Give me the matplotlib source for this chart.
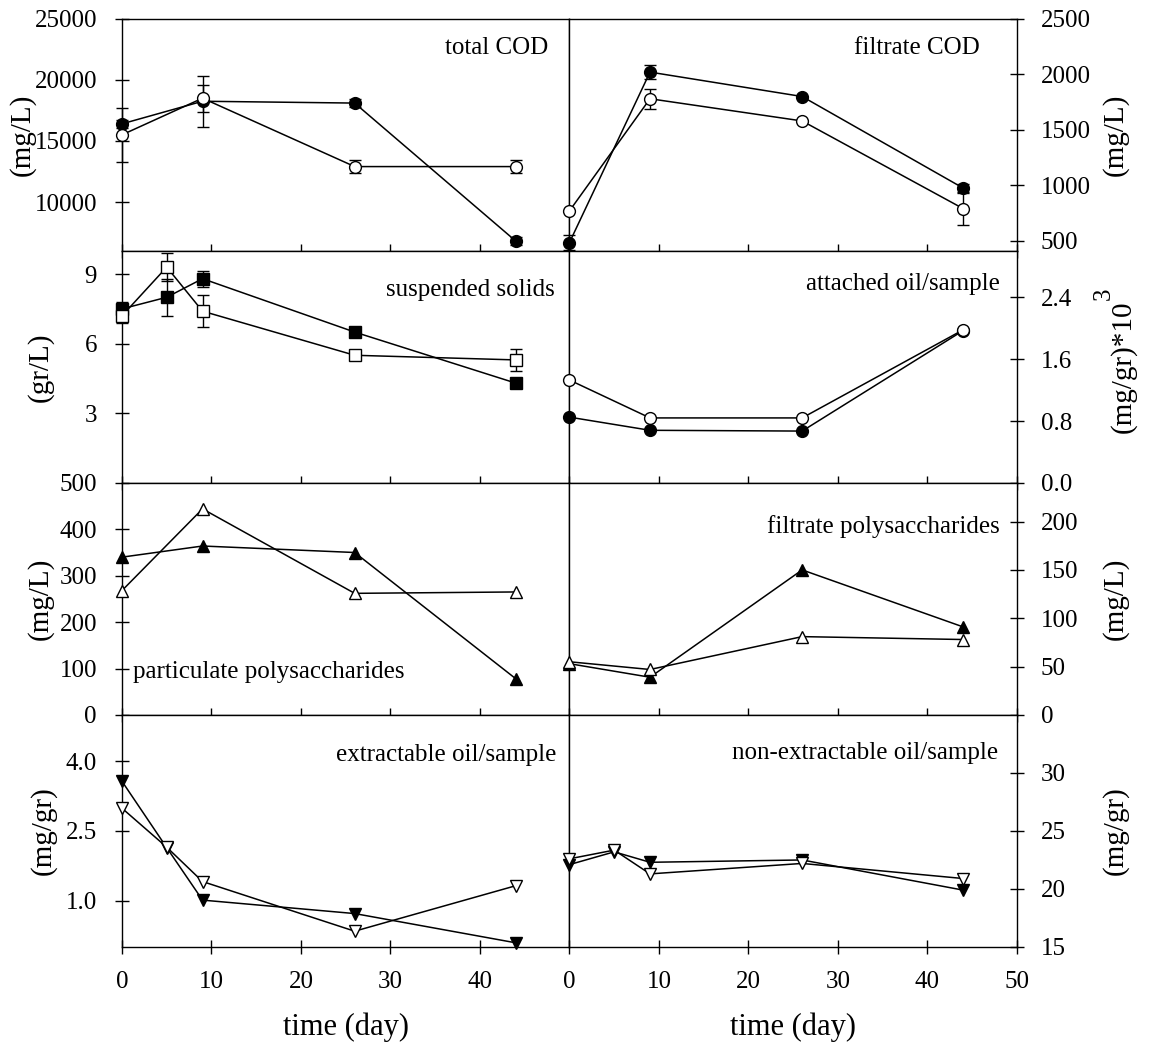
import matplotlib
matplotlib.use("Agg")
import matplotlib.pyplot as plt
from matplotlib.transforms import IdentityTransform

plt.rcParams['font.family'] = ['Liberation Serif', 'DejaVu Serif']
plt.rcParams['mathtext.fontset'] = 'stix'

# sampling days
days4 = [0, 9, 26, 44]
days5 = [0, 5, 9, 26, 44]

# total COD (mg/L)
tcod_filled = [16400, 18250, 18100, 6800]
tcod_filled_err = [300, 2080, 330, 300]
tcod_open = [15500, 18500, 12900, 12900]
tcod_open_err = [2200, 1100, 500, 500]

# filtrate COD (mg/L)
fcod_filled = [485, 2020, 1800, 975]
fcod_filled_err = [65, 60, 0, 40]
fcod_open = [770, 1780, 1580, 790]
fcod_open_err = [0, 90, 0, 150]

# suspended solids (gr/L)
ss_filled = [7.5, 8.0, 8.8, 6.5, 4.3]
ss_filled_err = [0.3, 0.8, 0.35, 0.1, 0.2]
ss_open = [7.2, 9.3, 7.4, 5.5, 5.3]
ss_open_err = [0.3, 0.6, 0.7, 0.05, 0.47]

# attached oil per sample ((mg/gr)*10^3)
ao_filled = [0.85, 0.68, 0.67, 1.97]
ao_open = [1.33, 0.84, 0.84, 1.98]

# particulate polysaccharides (mg/L)
pp_filled = [340, 364, 350, 78]
pp_open = [268, 444, 262, 265]

# filtrate polysaccharides (mg/L)
fp_filled = [53, 39, 150, 91]
fp_open = [55, 47, 81, 78]

# extractable oil per sample (mg/gr)
eo_filled = [3.57, 2.14, 1.01, 0.72, 0.09]
eo_open = [2.99, 2.15, 1.41, 0.34, 1.32]

# non-extractable oil per sample (mg/gr)
neo_filled = [22.1, 23.2, 22.3, 22.5, 19.9]
neo_open = [22.6, 23.35, 21.3, 22.2, 20.9]

fig, axes = plt.subplots(4, 2, figsize=(11.53, 10.45), dpi=100,
                         gridspec_kw=dict(hspace=0, wspace=0))
fig.subplots_adjust(left=0.1058, right=0.882, top=0.982, bottom=0.0938)

TICK_FS = 18
LABEL_FS = 21
COL_W = 447.5  # width of one column in pixels


def draw_pair(ax, x, yf, yo, marker, ms, errf=None, erro=None):
    for y, err, face in ((yf, errf, 'black'), (yo, erro, 'white')):
        if err is not None:
            ax.errorbar(x, y, yerr=err, fmt='none', ecolor='black',
                        elinewidth=1, capsize=4, capthick=1, clip_on=False, zorder=2)
        ax.plot(x, y, color='black', lw=1.1, marker=marker, ms=ms,
                mfc=face, mec='black', mew=1, clip_on=False, zorder=3)


def style(ax, col, ylim, yticks, ylabels, title, tx, ty, ha='right'):
    ax.set_xlim(0, 50)
    ax.set_ylim(*ylim)
    ax.set_yticks(yticks)
    ax.set_yticklabels(ylabels, fontsize=TICK_FS)
    ax.set_xticks([0, 10, 20, 30, 40] if col == 0 else [0, 10, 20, 30, 40, 50])
    ax.tick_params(axis='both', direction='inout', length=10, width=1,
                   labelsize=TICK_FS)
    ax.tick_params(axis='x', top=False, bottom=True, pad=12)
    if col == 0:
        ax.tick_params(axis='y', left=True, right=False, pad=13)
    else:
        ax.yaxis.tick_right()
        ax.yaxis.set_label_position('right')
        ax.tick_params(axis='y', direction='inout', length=10, width=1, pad=12)
    for s in ax.spines.values():
        s.set_linewidth(1)
    ax.text(tx, ty, title, transform=ax.transAxes, ha=ha, va='center',
            fontsize=TICK_FS)


def ylabel_at(ax, text, center_px, col):
    # place the rotated label by the pixel column of its visual centre
    ax.set_ylabel(text, fontsize=LABEL_FS)
    if col == 0:
        anchor = center_px + 14
        ax.yaxis.set_label_coords((anchor - 122) / COL_W, 0.5)
    else:
        anchor = center_px - 18
        ax.yaxis.set_label_coords((anchor - 569.5) / COL_W, 0.5)


# row 1: COD
ax = axes[0, 0]
draw_pair(ax, days4, tcod_filled, tcod_open, 'o', 8.5, tcod_filled_err, tcod_open_err)
style(ax, 0, (6000, 25000), [10000, 15000, 20000, 25000],
      ['10000', '15000', '20000', '25000'], 'total COD', 0.952, 0.875)
ylabel_at(ax, '(mg/L)', 22, 0)

ax = axes[0, 1]
draw_pair(ax, days4, fcod_filled, fcod_open, 'o', 8.5, fcod_filled_err, fcod_open_err)
style(ax, 1, (410, 2500), [500, 1000, 1500, 2000, 2500],
      ['500', '1000', '1500', '2000', '2500'], 'filtrate COD', 0.917, 0.875)
ylabel_at(ax, '(mg/L)', 1120, 1)

# row 2: solids and attached oil
ax = axes[1, 0]
draw_pair(ax, days5, ss_filled, ss_open, 's', 8, ss_filled_err, ss_open_err)
style(ax, 0, (0, 10), [3, 6, 9], ['3', '6', '9'], 'suspended solids', 0.968, 0.83)
ylabel_at(ax, '(gr/L)', 40, 0)

ax = axes[1, 1]
draw_pair(ax, days4, ao_filled, ao_open, 'o', 8.5)
style(ax, 1, (0, 3.0), [0.0, 0.8, 1.6, 2.4], ['0.0', '0.8', '1.6', '2.4'],
      'attached oil/sample', 0.962, 0.858)
ylabel_at(ax, '(mg/gr)*10', 1128, 1)
oil_label = ax.yaxis.label

# row 3: polysaccharides
ax = axes[2, 0]
draw_pair(ax, days4, pp_filled, pp_open, '^', 8.5)
style(ax, 0, (0, 500), [0, 100, 200, 300, 400, 500],
      ['0', '100', '200', '300', '400', '500'], 'particulate polysaccharides',
      0.025, 0.185, ha='left')
ylabel_at(ax, '(mg/L)', 40, 0)

ax = axes[2, 1]
draw_pair(ax, days4, fp_filled, fp_open, '^', 8.5)
style(ax, 1, (0, 240), [0, 50, 100, 150, 200], ['0', '50', '100', '150', '200'],
      'filtrate polysaccharides', 0.962, 0.81)
ylabel_at(ax, '(mg/L)', 1120, 1)

# row 4: oil per sample
ax = axes[3, 0]
draw_pair(ax, days5, eo_filled, eo_open, 'v', 8.5)
style(ax, 0, (0, 5.0), [1.0, 2.5, 4.0], ['1.0', '2.5', '4.0'],
      'extractable oil/sample', 0.97, 0.828)
ylabel_at(ax, '(mg/gr)', 43, 0)

ax = axes[3, 1]
draw_pair(ax, days5, neo_filled, neo_open, 'v', 8.5)
style(ax, 1, (15, 35), [15, 20, 25, 30], ['15', '20', '25', '30'],
      'non-extractable oil/sample', 0.958, 0.836)
ylabel_at(ax, '(mg/gr)', 1120, 1)

for r in range(3):
    for c in range(2):
        axes[r, c].tick_params(axis='x', labelbottom=False)

for c in range(2):
    axes[3, c].set_xlabel('time (day)', fontsize=22, labelpad=14)

# full-size exponent on the attached-oil label
fig.canvas.draw()
bb = oil_label.get_window_extent()
fig.text(bb.x1 - 22, bb.y1 + 1, '3', rotation=90, ha='right', va='bottom',
         fontsize=TICK_FS, transform=IdentityTransform())

fig.savefig('out.png', dpi=100)
